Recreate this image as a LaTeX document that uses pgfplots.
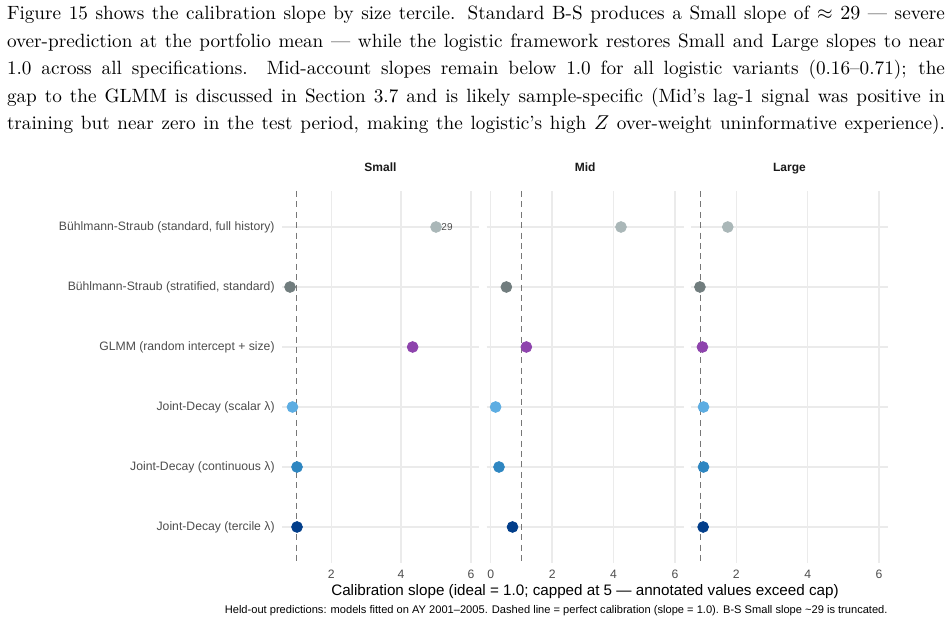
\documentclass[border=0pt]{standalone}
\usepackage{fontspec}
\usepackage{pgfplots}
\pgfplotsset{compat=1.18}
\newfontfamily\chartfont{Liberation Sans}

\definecolor{bsstd}{HTML}{AAB7B8}
\definecolor{bsstrat}{HTML}{717D7E}
\definecolor{glmm}{HTML}{8E44AD}
\definecolor{jdscalar}{HTML}{5DADE2}
\definecolor{jdcont}{HTML}{2E86C1}
\definecolor{jdterc}{HTML}{023E8A}
\definecolor{gridgray}{HTML}{EBEBEB}
\definecolor{refgray}{HTML}{777777}
\definecolor{tickgray}{HTML}{4D4D4D}
\definecolor{stripgray}{HTML}{1A1A1A}

\pgfplotsset{
  facet/.style={
    scale only axis, width=98.5pt, height=186pt, anchor=north west,
    ymin=0.4, ymax=6.6, y dir=reverse, ytick={1,...,6},
    xtick={0,2,4,6},
    axis line style={draw=none}, tick style={draw=none}, major tick length=0pt,
    xmajorgrids, ymajorgrids,
    grid style={draw=gridgray, line width=0.7pt},
    clip=false,
    xticklabel style={font=\chartfont\fontsize{6.1}{7}\selectfont, text=tickgray,
      anchor=base, yshift=-7.8pt, /pgf/number format/assume math mode=true},
    title style={font=\chartfont\bfseries\fontsize{6.0}{7}\selectfont, text=stripgray,
      at={(0.5,1)}, anchor=base, yshift=3.85pt, inner sep=0pt},
  },
  pt/.style={only marks, mark=*, mark size=2.7pt, mark options={draw=#1, fill=#1}},
  refline/.style={draw=refgray, line width=0.8pt, dash pattern=on 3pt off 2.2pt},
}

\begin{document}
\begin{tikzpicture}
\useasboundingbox (0,0) rectangle (475pt,-312pt);

% lead-in paragraph, one justified line per node
\begin{scope}[every node/.style={anchor=base west, inner sep=0pt, font=\fontsize{9.6}{13.75}\selectfont}]
\node at (3.3pt,-10pt) {\makebox[469pt][s]{Figure 15 shows the calibration slope by size tercile. Standard B-S produces a Small slope of $\approx 29$ — severe}};
\node at (3.3pt,-23.75pt) {\makebox[469pt][s]{over-prediction at the portfolio mean — while the logistic framework restores Small and Large slopes to near}};
\node at (3.3pt,-37.5pt) {\makebox[469pt][s]{1.0 across all specifications. Mid-account slopes remain below 1.0 for all logistic variants (0.16–0.71); the}};
\node at (3.3pt,-51.25pt) {\makebox[469pt][s]{gap to the GLMM is discussed in Section 3.7 and is likely sample-specific (Mid’s lag-1 signal was positive in}};
\node at (3.3pt,-65pt) {\makebox[469pt][s]{training but near zero in the test period, making the logistic’s high $Z$ over-weight uninformative experience).}};
\end{scope}

% Small tercile
\begin{axis}[facet, at={(141pt,-95.5pt)}, xmin=0.59, xmax=6.23, title={Small},
  yticklabels={{Bühlmann-Straub (standard, full history)},{Bühlmann-Straub (stratified, standard)},{GLMM (random intercept + size)},{Joint-Decay (scalar λ)},{Joint-Decay (continuous λ)},{Joint-Decay (tercile λ)}},
  yticklabel style={font=\chartfont\fontsize{6.1}{7}\selectfont, text=tickgray, anchor=east, inner sep=0pt, xshift=-3.5pt}]
\addplot[refline] coordinates {(1,0.4) (1,6.6)};
\addplot[pt=bsstd]    coordinates {(5.00,1)};
\addplot[pt=bsstrat]  coordinates {(0.82,2)};
\addplot[pt=glmm]     coordinates {(4.33,3)};
\addplot[pt=jdscalar] coordinates {(0.89,4)};
\addplot[pt=jdcont]   coordinates {(1.02,5)};
\addplot[pt=jdterc]   coordinates {(1.02,6)};
% value beyond the cap of 5
\node[anchor=west, inner sep=0pt, xshift=2.5pt, font=\chartfont\fontsize{5}{6}\selectfont, text=tickgray] at (axis cs:5.00,1) {29};
\end{axis}

% Mid tercile
\begin{axis}[facet, at={(243.35pt,-95.5pt)}, xmin=-0.13, xmax=6.28, title={Mid}, yticklabels={}]
\addplot[refline] coordinates {(1,0.4) (1,6.6)};
\addplot[pt=bsstd]    coordinates {(4.24,1)};
\addplot[pt=bsstrat]  coordinates {(0.51,2)};
\addplot[pt=glmm]     coordinates {(1.16,3)};
\addplot[pt=jdscalar] coordinates {(0.16,4)};
\addplot[pt=jdcont]   coordinates {(0.27,5)};
\addplot[pt=jdterc]   coordinates {(0.71,6)};
\end{axis}

% Large tercile
\begin{axis}[facet, at={(345.5pt,-95.5pt)}, xmin=0.73, xmax=6.25, title={Large}, yticklabels={}]
\addplot[refline] coordinates {(1,0.4) (1,6.6)};
\addplot[pt=bsstd]    coordinates {(1.76,1)};
\addplot[pt=bsstrat]  coordinates {(0.98,2)};
\addplot[pt=glmm]     coordinates {(1.05,3)};
\addplot[pt=jdscalar] coordinates {(1.08,4)};
\addplot[pt=jdcont]   coordinates {(1.08,5)};
\addplot[pt=jdterc]   coordinates {(1.07,6)};
\end{axis}

\node[anchor=base, inner sep=0pt, font=\chartfont\fontsize{7.6}{9}\selectfont] at (292.5pt,-298pt)
  {Calibration slope (ideal = 1.0; capped at 5 — annotated values exceed cap)};
\node[anchor=base east, inner sep=0pt, font=\chartfont\fontsize{5.55}{7}\selectfont] at (444pt,-306.8pt)
  {Held-out predictions: models fitted on AY 2001–2005. Dashed line = perfect calibration (slope = 1.0). B-S Small slope \textasciitilde29 is truncated.};
\end{tikzpicture}
\end{document}
